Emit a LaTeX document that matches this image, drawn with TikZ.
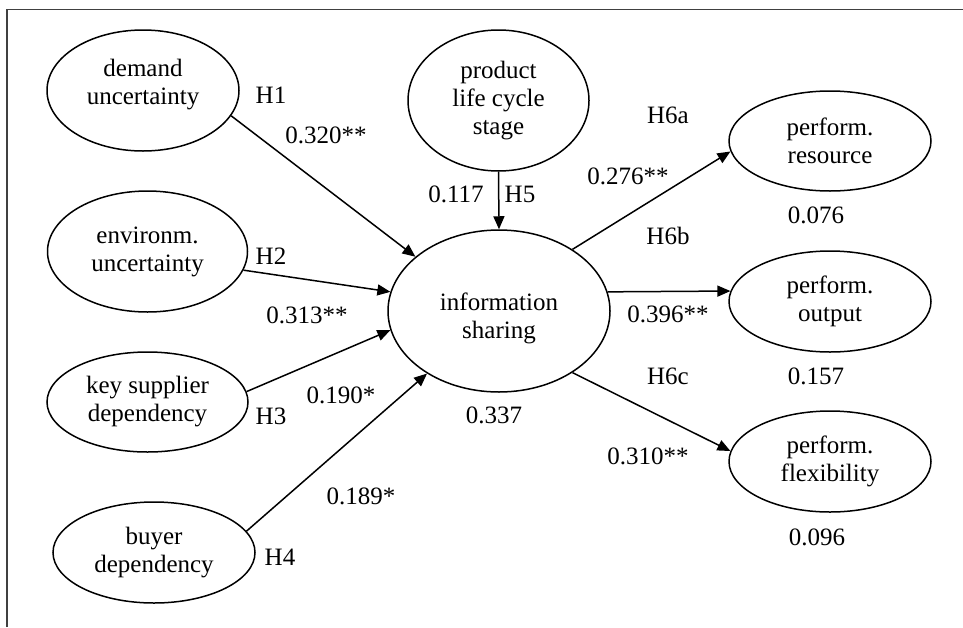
\documentclass[tikz,border=0pt]{standalone}
\usepackage{fontspec}
\setmainfont{Liberation Serif}
\usetikzlibrary{arrows.meta,shapes.geometric}

\begin{document}
\begin{tikzpicture}[x=1pt,y=-1pt,
  ell/.style={draw, ellipse, line width=1.5pt, inner sep=0pt, align=center,
    font=\fontsize{25}{28}\selectfont},
  inner/.style={font=\fontsize{25}{28}\selectfont, align=center, inner sep=0pt},
  lbl/.style={font=\fontsize{25}{28}\selectfont, inner sep=0pt},
  link/.style={line width=1.5pt, -{Triangle[length=13pt,width=11pt]}}
]
\useasboundingbox (0,0) rectangle (963,627);

% frame
\draw[line width=1.4pt, black!75] (7,627) -- (7,9.5) -- (963,9.5);

% constructs
\node[ell, minimum width=192pt, minimum height=121pt,
  label={[inner, yshift=6pt]center:demand\\uncertainty}] (demand) at (143,90.5) {};
\node[ell, minimum width=200pt, minimum height=121pt] (env) at (147.5,251.5) {environm.\\uncertainty};
\node[ell, minimum width=201pt, minimum height=100pt] (key) at (147.5,402) {key supplier\\dependency};
\node[ell, minimum width=202pt, minimum height=101pt] (buyer) at (154,552.5) {buyer\\dependency};
\node[ell, minimum width=181pt, minimum height=141pt] (plc) at (498.5,100.5) {product\\life cycle\\stage};
\node[ell, minimum width=222pt, minimum height=162pt,
  label={[inner, yshift=-7pt]center:information\\sharing}] (info) at (499,311) {};
\node[ell, minimum width=202pt, minimum height=100pt] (res) at (830,141) {perform.\\resource};
\node[ell, minimum width=202pt, minimum height=101pt] (out) at (830,301.5) {perform.\\output};
\node[ell, minimum width=202pt, minimum height=101pt] (flex) at (830,461.5) {perform.\\flexibility};

% paths
\draw[link] (demand.-16) -- (info.147);
\draw[link] (env.-11) -- (info.170.5);
\draw[link] (key.6) -- (info.190.5);
\draw[link] (buyer.13) -- (info.221.5);
\draw[link] (plc.south) -- (info.north);
\draw[link] (info.40) -- (res.186);
\draw[link] (info.10) -- (out.174);
\draw[link] (info.-40) -- (flex.174);

% hypotheses and coefficients
\node[lbl] (h1) at (271,95) {H1};
\node[lbl] (c1) at (326,135) {0.320**};
\node[lbl] (h2) at (271,256) {H2};
\node[lbl] (c2) at (307,315) {0.313**};
\node[lbl] (h3) at (271,416) {H3};
\node[lbl] (c3) at (341,395) {0.190*};
\node[lbl] (h4) at (280,557) {H4};
\node[lbl] (c4) at (361,496) {0.189*};
\node[lbl] (c5) at (456,194) {0.117};
\node[lbl] (h5) at (520,194) {H5};
\node[lbl] (r2info) at (494,415) {0.337};
\node[lbl] (h6a) at (668,115) {H6a};
\node[lbl] (c6a) at (628,176) {0.276**};
\node[lbl] (r2res) at (816,215) {0.076};
\node[lbl] (h6b) at (668,236) {H6b};
\node[lbl] (c6b) at (668,314) {0.396**};
\node[lbl] (r2out) at (816,376) {0.157};
\node[lbl] (h6c) at (668,376) {H6c};
\node[lbl] (c6c) at (648,456) {0.310**};
\node[lbl] (r2flex) at (817,537) {0.096};
\end{tikzpicture}
\end{document}
